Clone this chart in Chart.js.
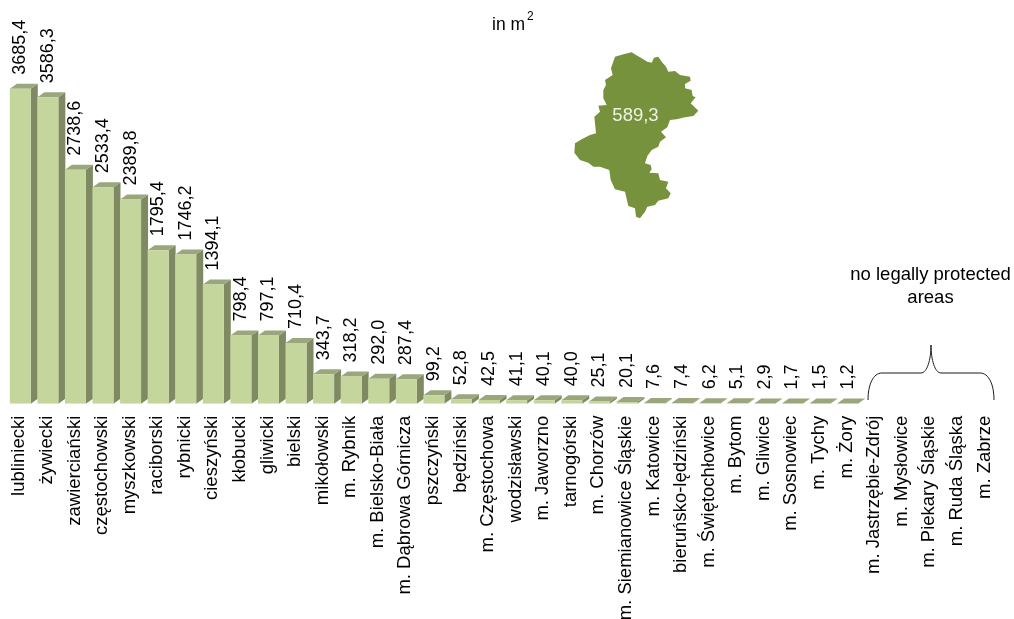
<!DOCTYPE html>
<html><head><meta charset="utf-8">
<script src="https://cdn.jsdelivr.net/npm/chart.js@4/dist/chart.umd.min.js"></script>
<style>html,body{margin:0;padding:0;background:#fff}canvas{display:block}</style>
</head><body><canvas id="c" width="1014" height="619"></canvas>
<script>
const categories = ["lubliniecki","żywiecki","zawierciański","częstochowski","myszkowski","raciborski","rybnicki","cieszyński","kłobucki","gliwicki","bielski","mikołowski","m. Rybnik","m. Bielsko-Biała","m. Dąbrowa Górnicza","pszczyński","będziński","m. Częstochowa","wodzisławski","m. Jaworzno","tarnogórski","m. Chorzów","m. Siemianowice Śląskie","m. Katowice","bieruńsko-lędziński","m. Świętochłowice","m. Bytom","m. Gliwice","m. Sosnowiec","m. Tychy","m. Żory","m. Jastrzębie-Zdrój","m. Mysłowice","m. Piekary Śląskie","m. Ruda Śląska","m. Zabrze"];
const values = [3685.4,3586.3,2738.6,2533.4,2389.8,1795.4,1746.2,1394.1,798.4,797.1,710.4,343.7,318.2,292.0,287.4,99.2,52.8,42.5,41.1,40.1,40.0,25.1,20.1,7.6,7.4,6.2,5.1,2.9,1.7,1.5,1.2,null,null,null,null,null];
const regionValue = "589,3";
const unitText = "in m";
const noDataLines = ["no legally protected","areas"];
// decorative outline of the region (not a data mark), in zoomed-crop units
const regionOutline = [[215,127],[228,135],[245,145],[262,155],[275,158],[282,143],[295,140],[305,155],[318,170],[325,185],[345,183],[360,195],[390,200],[392,212],[375,222],[375,235],[395,240],[398,258],[407,262],[392,280],[415,302],[400,318],[375,322],[350,328],[330,330],[322,352],[303,365],[318,382],[300,395],[295,410],[275,420],[262,438],[255,460],[272,465],[275,478],[268,488],[295,490],[300,510],[325,515],[318,535],[332,550],[325,565],[295,572],[285,585],[262,590],[255,605],[240,625],[228,620],[225,595],[205,588],[195,545],[165,538],[152,510],[148,480],[120,470],[100,470],[85,458],[60,450],[43,428],[45,400],[65,388],[90,375],[108,370],[103,320],[120,305],[115,287],[140,285],[130,265],[130,240],[138,225],[135,210],[158,195],[153,175],[165,140],[190,133]];

const FONT = '"Liberation Sans", Arial, sans-serif';
const DX = 7, DY = 5;
const depthPlugin = {
  id:'depth',
  beforeDatasetsDraw(chart){
    const ctx = chart.ctx, meta = chart.getDatasetMeta(0);
    meta.data.forEach((b,i)=>{
      if(values[i]==null) return;
      const L=b.x-b.width/2, R=b.x+b.width/2, T=b.y, B=b.base;
      ctx.fillStyle='#808a62';
      ctx.beginPath();ctx.moveTo(R,T);ctx.lineTo(R+DX,T-DY);ctx.lineTo(R+DX,B-DY);ctx.lineTo(R,B);ctx.closePath();ctx.fill();
      ctx.fillStyle='#9aa77c';
      ctx.beginPath();ctx.moveTo(L,T);ctx.lineTo(L+DX,T-DY);ctx.lineTo(R+DX,T-DY);ctx.lineTo(R,T);ctx.closePath();ctx.fill();
    });
  },
  afterDatasetsDraw(chart){
    const ctx = chart.ctx, meta = chart.getDatasetMeta(0);
    ctx.save();
    ctx.fillStyle='#000';ctx.font='18px '+FONT;ctx.textAlign='left';ctx.textBaseline='middle';
    meta.data.forEach((b,i)=>{
      if(values[i]==null) return;
      ctx.save();ctx.translate(b.x,b.y-14);ctx.rotate(-Math.PI/2);
      ctx.fillText(values[i].toFixed(1).replace('.',','),0,0);ctx.restore();
    });
    ctx.restore();
  },
  afterDraw(chart){
    const ctx = chart.ctx;
    ctx.save();
    // region map
    ctx.fillStyle='#76923c';ctx.beginPath();
    regionOutline.forEach(([x,y],i)=>{const px=560+x/3,py=10+y/3;i?ctx.lineTo(px,py):ctx.moveTo(px,py);});
    ctx.closePath();ctx.fill();
    ctx.fillStyle='#f0f2e6';ctx.font='18.5px '+FONT;ctx.textAlign='center';ctx.textBaseline='middle';
    ctx.fillText(regionValue,635.5,116);
    // unit
    ctx.fillStyle='#000';ctx.font='17.5px '+FONT;ctx.textAlign='left';ctx.textBaseline='alphabetic';
    ctx.fillText(unitText,492,30);
    ctx.font='12px '+FONT;ctx.fillText('2',527,20);
    // note
    ctx.font='18.5px '+FONT;ctx.textAlign='center';
    ctx.fillText(noDataLines[0],930.5,280);ctx.fillText(noDataLines[1],930.5,302.5);
    // brace
    ctx.strokeStyle='#1a1a1a';ctx.lineWidth=1;ctx.beginPath();
    ctx.moveTo(868,400);ctx.bezierCurveTo(868,385,873,373,882,373);ctx.lineTo(921,373);
    ctx.bezierCurveTo(927,373,931,360,931,345);
    ctx.bezierCurveTo(931,360,935,373,941,373);ctx.lineTo(980,373);
    ctx.bezierCurveTo(989,373,994,385,994,400);ctx.stroke();
    ctx.restore();
  }
};
new Chart(document.getElementById('c'),{
  type:'bar',
  data:{labels:categories,datasets:[{data:values,backgroundColor:'#c4d69b',borderWidth:0,barPercentage:0.76,categoryPercentage:1}]},
  plugins:[depthPlugin],
  options:{
    responsive:false,animation:false,
    layout:{padding:{left:6.5,right:14.8,top:62,bottom:0}},
    plugins:{legend:{display:false},tooltip:{enabled:false}},
    scales:{
      y:{display:false,min:0,max:4000},
      x:{grid:{display:false,drawTicks:false},border:{display:false},
         afterFit(s){s.height=215.3;s.paddingLeft=0;s.paddingRight=0;},
         ticks:{autoSkip:false,minRotation:90,maxRotation:90,padding:12,labelOffset:-1,color:'#000',font:{family:FONT,size:18.5}}}
    }
  }
});
</script></body></html>
